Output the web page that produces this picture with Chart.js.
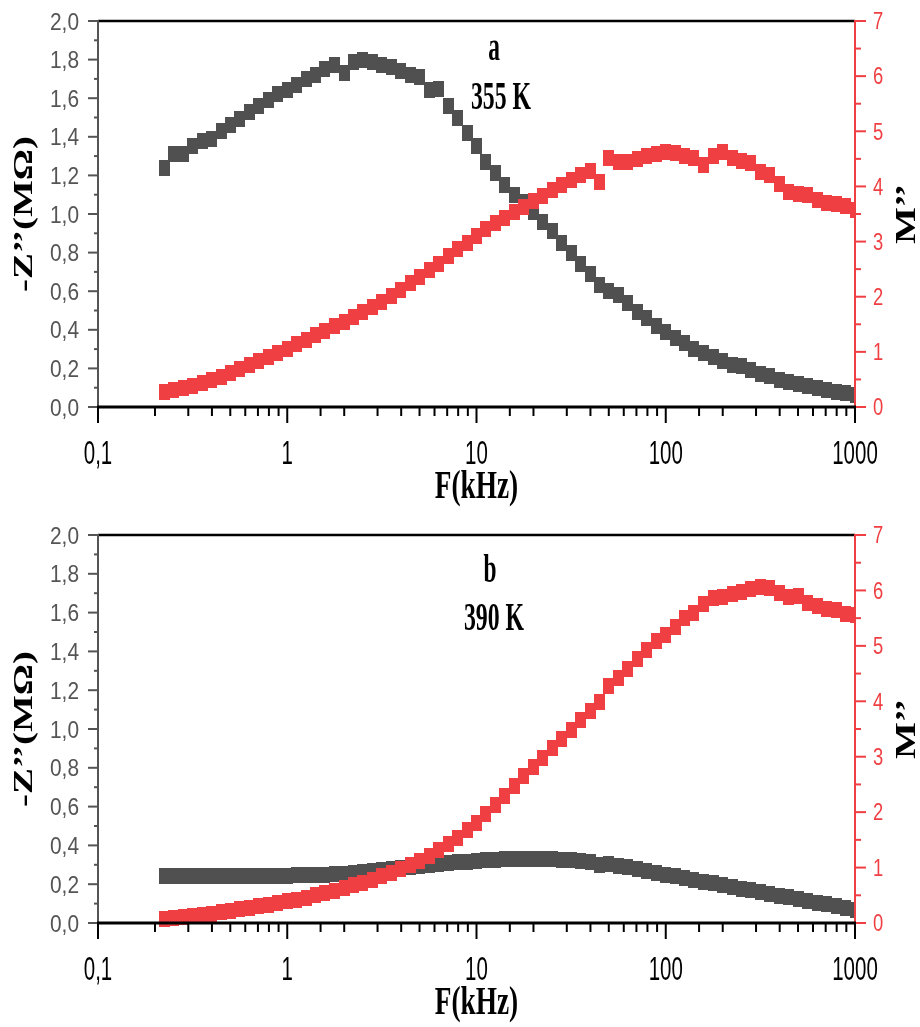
<!DOCTYPE html>
<html>
<head>
<meta charset="utf-8">
<script src="https://cdn.jsdelivr.net/npm/chart.js@4.4.1/dist/chart.umd.min.js"></script>
<style>
    html, body { margin: 0; padding: 0; background: #fff; }
    #wrap { position: relative; width: 920px; height: 1027px; }
    canvas { position: absolute; left: 0; display: block; }
</style>
</head>
<body>
<div id="wrap">
    <canvas id="chartA" width="920" height="515" style="top:0"></canvas>
    <canvas id="chartB" width="920" height="512" style="top:515px"></canvas>
</div>
<script>
// Frequency (kHz), log spaced
const freq = [0.224, 0.251, 0.282, 0.316, 0.355, 0.398, 0.447, 0.501, 0.562, 0.631, 0.708, 0.794, 0.891,
    1, 1.12, 1.26, 1.41, 1.58, 1.78, 2, 2.24, 2.51, 2.82, 3.16, 3.55, 3.98, 4.47, 5.01, 5.62, 6.31, 7.08, 7.94, 8.91,
    10, 11.2, 12.6, 14.1, 15.8, 17.8, 20, 22.4, 25.1, 28.2, 31.6, 35.5, 39.8, 44.7, 50.1, 56.2, 63.1, 70.8, 79.4, 89.1,
    100, 112, 126, 141, 158, 178, 200, 224, 251, 282, 316, 355, 398, 447, 501, 562, 631, 708, 794, 891, 1000];

// Panel a (355 K)
const zA = [1.24, 1.31, 1.31, 1.35, 1.38, 1.39, 1.43, 1.46, 1.49, 1.53, 1.56, 1.59, 1.62,
    1.64, 1.67, 1.70, 1.72, 1.75, 1.77, 1.73, 1.79, 1.80, 1.79, 1.77, 1.76, 1.74, 1.72, 1.71, 1.64, 1.65, 1.56, 1.50, 1.42,
    1.35, 1.27, 1.21, 1.15, 1.10, 1.06, 1.01, 0.96, 0.91, 0.85, 0.80, 0.74, 0.69, 0.63, 0.60, 0.58, 0.54, 0.49, 0.46, 0.42,
    0.39, 0.36, 0.33, 0.30, 0.28, 0.26, 0.24, 0.22, 0.21, 0.19, 0.17, 0.16, 0.14, 0.13, 0.12, 0.11, 0.10, 0.09, 0.08, 0.07, 0.06];
const mA = [0.27, 0.30, 0.34, 0.38, 0.44, 0.49, 0.55, 0.62, 0.69, 0.76, 0.83, 0.90, 0.98,
    1.06, 1.14, 1.22, 1.30, 1.38, 1.46, 1.55, 1.64, 1.72, 1.81, 1.91, 2.02, 2.12, 2.24, 2.36, 2.48, 2.60, 2.74, 2.86, 2.98,
    3.10, 3.22, 3.33, 3.43, 3.53, 3.63, 3.74, 3.83, 3.94, 4.03, 4.12, 4.20, 4.28, 4.08, 4.52, 4.45, 4.45, 4.50, 4.56, 4.58,
    4.63, 4.60, 4.56, 4.52, 4.38, 4.55, 4.62, 4.52, 4.46, 4.43, 4.27, 4.20, 4.05, 3.90, 3.86, 3.84, 3.76, 3.70, 3.68, 3.64, 3.58];

// Panel b (390 K)
const zB = [0.240, 0.240, 0.240, 0.240, 0.241, 0.241, 0.241, 0.241, 0.242, 0.242, 0.242, 0.243, 0.243,
    0.244, 0.245, 0.247, 0.248, 0.250, 0.252, 0.255, 0.258, 0.262, 0.266, 0.271, 0.276, 0.282, 0.288, 0.293, 0.298, 0.303, 0.308, 0.312, 0.316,
    0.320, 0.323, 0.326, 0.328, 0.330, 0.331, 0.331, 0.330, 0.329, 0.327, 0.324, 0.320, 0.315, 0.300, 0.305, 0.296, 0.287, 0.278, 0.268, 0.259,
    0.250, 0.240, 0.231, 0.222, 0.213, 0.204, 0.195, 0.186, 0.177, 0.168, 0.159, 0.150, 0.141, 0.132, 0.123, 0.114, 0.105, 0.096, 0.087, 0.078, 0.069];
const mB = [0.08, 0.09, 0.11, 0.13, 0.15, 0.17, 0.19, 0.22, 0.25, 0.27, 0.30, 0.33, 0.36,
    0.39, 0.42, 0.46, 0.50, 0.54, 0.58, 0.63, 0.68, 0.73, 0.78, 0.84, 0.90, 0.97, 1.04, 1.12, 1.21, 1.31, 1.42, 1.54, 1.67,
    1.81, 1.97, 2.13, 2.30, 2.48, 2.66, 2.82, 2.98, 3.15, 3.32, 3.49, 3.66, 3.82, 3.98, 4.28, 4.42, 4.58, 4.76, 4.92, 5.08,
    5.20, 5.34, 5.50, 5.60, 5.75, 5.86, 5.88, 5.93, 5.97, 6.02, 6.07, 6.04, 5.95, 5.88, 5.90, 5.78, 5.72, 5.66, 5.64, 5.58, 5.55];

// Tick labels
const xTickValues = [0.1, 1, 10, 100, 1000];
const xTickLabels = ['0,1', '1', '10', '100', '1000'];
const zTickValues = [0, 0.2, 0.4, 0.6, 0.8, 1.0, 1.2, 1.4, 1.6, 1.8, 2.0];
const zTickLabels = ['0,0', '0,2', '0,4', '0,6', '0,8', '1,0', '1,2', '1,4', '1,6', '1,8', '2,0'];
const mTickValues = [0, 1, 2, 3, 4, 5, 6, 7];
const mTickLabels = ['0', '1', '2', '3', '4', '5', '6', '7'];

const GREY = '#505050';
const RED = '#ef3f42';
const SANS = '"Liberation Sans", Arial, sans-serif';
const SERIF = '"Liberation Serif", "Times New Roman", serif';

// Rectangular marker (the figure is stretched vertically)
function makeMarker(color) {
    const c = document.createElement('canvas');
    c.width = 11;
    c.height = 16;
    const g = c.getContext('2d');
    g.fillStyle = color;
    g.fillRect(0, 0, 11, 16);
    return c;
}

// Condensed text: sx squeezes along screen x
function drawText(ctx, s, x, y, font, color, sx, align, base, rotate) {
    ctx.save();
    ctx.translate(x, y);
    if (rotate) {
        ctx.rotate(-Math.PI / 2);
        ctx.scale(1, sx);
    } else {
        ctx.scale(sx, 1);
    }
    ctx.font = font;
    ctx.fillStyle = color;
    ctx.textAlign = align;
    ctx.textBaseline = base;
    ctx.fillText(s, 0, 0);
    ctx.restore();
}

function isPow10(v) {
    const l = Math.log10(v);
    return Math.abs(l - Math.round(l)) < 1e-6;
}

// Draws frame, ticks, labels and titles on top of the data
const framePlugin = {
    id: 'frame',
    afterDraw(chart, args, opts) {
        const ctx = chart.ctx;
        const a = chart.chartArea;
        const x = chart.scales.x, y = chart.scales.y, y1 = chart.scales.y1;
        ctx.save();
        ctx.lineCap = 'butt';

        // top border
        ctx.strokeStyle = '#000';
        ctx.lineWidth = 2.5;
        ctx.beginPath();
        ctx.moveTo(a.left, a.top);
        ctx.lineTo(a.right, a.top);
        ctx.stroke();

        // left axis
        ctx.strokeStyle = '#555';
        ctx.lineWidth = 2;
        ctx.beginPath();
        ctx.moveTo(a.left, a.top - 1);
        ctx.lineTo(a.left, a.bottom);
        ctx.stroke();
        y.ticks.forEach(t => {
            const py = y.getPixelForValue(t.value);
            const major = Math.abs(t.value / 0.2 - Math.round(t.value / 0.2)) < 1e-6;
            ctx.beginPath();
            ctx.moveTo(a.left, py);
            ctx.lineTo(a.left - (major ? 10 : 4), py);
            ctx.stroke();
        });
        zTickValues.forEach((v, i) => {
            drawText(ctx, zTickLabels[i], a.left - 19, y.getPixelForValue(v) + 2,
                '24px ' + SANS, '#555', 0.87, 'right', 'middle');
        });

        // right axis
        ctx.strokeStyle = RED;
        ctx.beginPath();
        ctx.moveTo(a.right, a.top - 1);
        ctx.lineTo(a.right, a.bottom);
        ctx.stroke();
        y1.ticks.forEach(t => {
            const py = y1.getPixelForValue(t.value);
            const major = Math.abs(t.value - Math.round(t.value)) < 1e-6;
            ctx.beginPath();
            ctx.moveTo(a.right, py);
            ctx.lineTo(a.right + (major ? 11 : 6), py);
            ctx.stroke();
        });
        mTickValues.forEach((v, i) => {
            drawText(ctx, mTickLabels[i], a.right + 18, y1.getPixelForValue(v) + 2,
                '23px ' + SANS, RED, 0.8, 'left', 'middle');
        });

        // bottom axis
        ctx.strokeStyle = '#000';
        ctx.lineWidth = 3;
        ctx.beginPath();
        ctx.moveTo(a.left - 1, a.bottom);
        ctx.lineTo(a.right + 1, a.bottom);
        ctx.stroke();
        ctx.lineWidth = 2;
        x.ticks.forEach(t => {
            const px = x.getPixelForValue(t.value);
            const major = isPow10(t.value);
            ctx.beginPath();
            ctx.moveTo(px, a.bottom);
            ctx.lineTo(px, a.bottom + (major ? 16 : 9));
            ctx.stroke();
        });
        xTickValues.forEach((v, i) => {
            drawText(ctx, xTickLabels[i], x.getPixelForValue(v), a.bottom + 31,
                '33px ' + SANS, '#000', 0.62, 'center', 'top');
        });

        // axis titles
        const serifBold = 'bold 39px ' + SERIF;
        drawText(ctx, 'F(kHz)', (a.left + a.right) / 2, a.bottom + 81, serifBold, '#000', 0.7, 'center', 'middle');
        drawText(ctx, '-Z\u2019\u2019(M\u03A9)', 25, (a.top + a.bottom) / 2, serifBold, '#000', 0.7, 'center', 'middle', true);
        drawText(ctx, 'M\u2019\u2019', 907, (a.top + a.bottom) / 2, serifBold, '#000', 0.77, 'center', 'middle', true);

        // panel label and temperature
        drawText(ctx, opts.letter, opts.letterX, opts.letterY, serifBold, '#000', 0.6, 'center', 'alphabetic');
        drawText(ctx, opts.temp, opts.tempX, opts.tempY, serifBold, '#000', 0.61, 'center', 'alphabetic');
        ctx.restore();
    }
};

function points(values) {
    return freq.map((f, i) => ({ x: f, y: values[i] }));
}

function buildChart(id, zVals, mVals, padTop, axisH, labels) {
    const ctx = document.getElementById(id).getContext('2d');
    return new Chart(ctx, {
        type: 'scatter',
        data: {
            datasets: [{
                label: "-Z''",
                data: points(zVals),
                yAxisID: 'y',
                pointStyle: makeMarker(GREY),
                order: 1,
                clip: { left: 20, top: 20, bottom: 20, right: 0 }
            }, {
                label: "M''",
                data: points(mVals),
                yAxisID: 'y1',
                pointStyle: makeMarker(RED),
                order: 0,
                clip: { left: 20, top: 20, bottom: 20, right: 0 }
            }]
        },
        options: {
            responsive: false,
            animation: false,
            events: [],
            layout: { padding: { top: padTop, left: 0, right: 0, bottom: 0 } },
            plugins: {
                legend: { display: false },
                tooltip: { enabled: false },
                frame: labels
            },
            scales: {
                x: {
                    type: 'logarithmic',
                    position: 'bottom',
                    min: 0.1,
                    max: 1000,
                    ticks: { display: false },
                    grid: { display: false },
                    border: { display: false },
                    afterFit: s => { s.height = axisH; }
                },
                y: {
                    position: 'left',
                    min: 0,
                    max: 2,
                    ticks: { display: false, stepSize: 0.1 },
                    grid: { display: false },
                    border: { display: false },
                    afterFit: s => { s.width = 98; }
                },
                y1: {
                    position: 'right',
                    min: 0,
                    max: 7,
                    ticks: { display: false, stepSize: 0.5 },
                    grid: { display: false },
                    border: { display: false },
                    afterFit: s => { s.width = 65; }
                }
            }
        },
        plugins: [framePlugin]
    });
}

buildChart('chartA', zA, mA, 21, 108,
    { letter: 'a', letterX: 494, letterY: 60, temp: '355 K', tempX: 501, tempY: 109 });
buildChart('chartB', zB, mB, 20, 104,
    { letter: 'b', letterX: 490, letterY: 67, temp: '390 K', tempX: 494, tempY: 115 });
</script>
</body>
</html>
